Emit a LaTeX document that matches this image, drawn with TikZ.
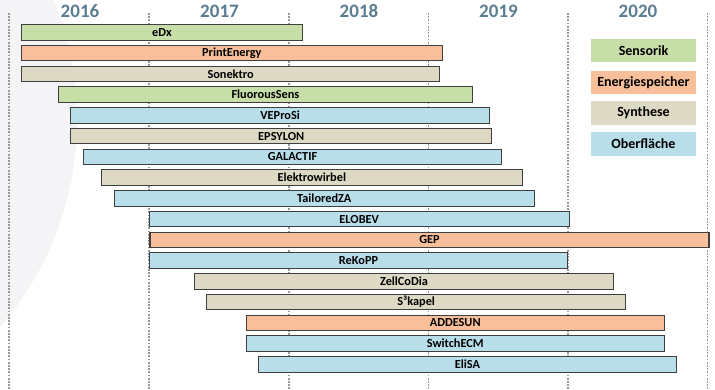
\documentclass[tikz,border=0pt]{standalone}
\usepackage{fontspec}
\setmainfont{Carlito}
\definecolor{sensgreen}{HTML}{C8DEA8}
\definecolor{energyorange}{HTML}{F8C09A}
\definecolor{synbeige}{HTML}{DDD9C4}
\definecolor{surfblue}{HTML}{B8DEEA}
\definecolor{barline}{HTML}{3F3F3F}
\definecolor{yearcol}{HTML}{5A7D91}
\definecolor{arcgray}{HTML}{F4F4F6}
\tikzset{
  bar/.style={draw=barline, line width=1.1pt, inner sep=0pt, minimum height=15.5pt, font=\fontsize{12.3}{13}\selectfont\bfseries},
  ksens/.style={bar, fill=sensgreen}, kenergy/.style={bar, fill=energyorange},
  ksyn/.style={bar, fill=synbeige}, ksurf/.style={bar, fill=surfblue},
  legend/.style={inner sep=0pt, minimum width=105pt, minimum height=23.5pt, font=\fontsize{14}{16}\selectfont\bfseries},
  year/.style={inner sep=0pt, text=yearcol, font=\fontsize{19}{22}\selectfont\bfseries},
  yearline/.style={draw=black!40, line width=1.8pt, dash pattern=on 1.8pt off 1.4pt},
}

\begin{document}
\begin{tikzpicture}[x=1pt, y=-1pt]
    \useasboundingbox (0,0) rectangle (715,389);
    % faint background arc
    \begin{scope}
      \clip (0,0) rectangle (715,389);
      \fill[arcgray] (-240,120) circle (317pt);
    \end{scope}
    % year grid
    \draw[yearline] (9,13) -- (9,389);
    \draw[yearline] (149.3,13) -- (149.3,389);
    \draw[yearline] (289,13) -- (289,389);
    \draw[yearline] (428.5,13) -- (428.5,389);
    \draw[yearline] (568,13) -- (568,389);
    \draw[yearline] (707.5,13) -- (707.5,389);
    \node[year] (y2016) at (80,11.2) {2016};
    \node[year] (y2017) at (219.5,11.2) {2017};
    \node[year] (y2018) at (359,11.2) {2018};
    \node[year] (y2019) at (498.5,11.2) {2019};
    \node[year] (y2020) at (638,11.2) {2020};
    % projects
    \node[ksens, minimum width=281pt] (edx) at (162,32.3) {eDx};
    \node[kenergy, minimum width=420.5pt] (printenergy) at (231.8,53.1) {PrintEnergy};
    \node[ksyn, minimum width=418.2pt] (sonektro) at (230.6,73.8) {Sonektro};
    \node[ksens, minimum width=414.7pt] (fluorous) at (265.4,94.6) {FluorousSens};
    \node[ksurf, minimum width=419pt] (veprosi) at (280.2,115.3) {VEProSi};
    \node[ksyn, minimum width=421pt] (epsylon) at (281.2,136.1) {EPSYLON};
    \node[ksurf, minimum width=418.4pt] (galactif) at (292.5,156.8) {GALACTIF};
    \node[ksyn, minimum width=421pt] (elektro) at (311.8,177.6) {Elektrowirbel};
    \node[ksurf, minimum width=420pt] (tailored) at (324.3,198.3) {TailoredZA};
    \node[ksurf, minimum width=420.3pt] (elobev) at (359.2,219.1) {ELOBEV};
    \node[kenergy, minimum width=559pt] (gep) at (429.5,239.8) {GEP};
    \node[ksurf, minimum width=418.4pt] (rekopp) at (358.5,260.6) {ReKoPP};
    \node[ksyn, minimum width=418.6pt] (zellcodia) at (404,281.3) {ZellCoDia};
    \node[ksyn, minimum width=419pt] (skapel) at (416.2,302.1) {S³kapel};
    \node[kenergy, minimum width=418.3pt] (addesun) at (455.2,322.8) {ADDESUN};
    \node[ksurf, minimum width=418.3pt] (switchecm) at (455.2,343.6) {SwitchECM};
    \node[ksurf, minimum width=418.4pt] (elisa) at (467.5,364.3) {EliSA};
    % legend
    \node[legend, fill=sensgreen] (lsens) at (643.5,50.7) {Sensorik};
    \node[legend, fill=energyorange] (lenergy) at (643.5,82.5) {Energiespeicher};
    \node[legend, fill=synbeige] (lsyn) at (643.5,113) {Synthese};
    \node[legend, fill=surfblue] (lsurf) at (643.5,144) {Oberfläche};
  \end{tikzpicture}
\end{document}
